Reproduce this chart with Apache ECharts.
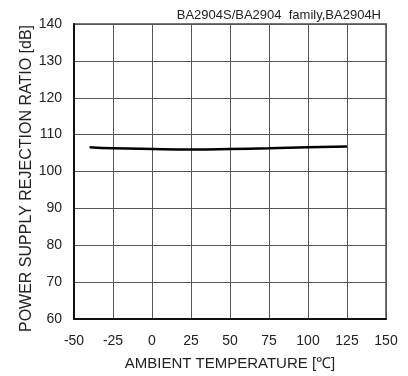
<!DOCTYPE html>
<html>
<head>
<meta charset="utf-8">
<script src="https://cdn.jsdelivr.net/npm/echarts@6/dist/echarts.min.js"></script>
<style>html,body{margin:0;padding:0;background:#fff}#c{width:408px;height:376px}</style>
</head>
<body>
<div id="c"></div>
<script>
var temps = [-40, -25, 0, 25, 50, 75, 100, 125];
var psrr = [106.6, 106.3, 106.1, 106.0, 106.1, 106.3, 106.6, 106.8];
var xTicks = [-50, -25, 0, 25, 50, 75, 100, 125, 150];
var yTicks = [60, 70, 80, 90, 100, 110, 120, 130, 140];
var titleText = 'BA2904S/BA2904  family,BA2904H';
var xName = 'AMBIENT TEMPERATURE [\u2103]';
var yName = 'POWER SUPPLY REJECTION RATIO [dB]';

var font = 'Liberation Sans, Arial, sans-serif';
var chart = echarts.init(document.getElementById('c'), null, {renderer: 'canvas'});
chart.setOption({
  animation: false,
  title: {
    text: titleText, right: 22, top: 4,
    textStyle: {fontFamily: font, fontSize: 13, fontWeight: 'normal', color: '#222'}
  },
  graphic: [{
    type: 'text', left: 19, top: 25,
    rotation: Math.PI / 2,
    style: {text: yName, font: '16px ' + font, fill: '#222'}
  }],
  grid: {left: 74, right: 22, top: 24, bottom: 57, show: true, borderColor: '#777', borderWidth: 2, backgroundColor: 'transparent'},
  xAxis: {
    type: 'value', min: xTicks[0], max: xTicks[xTicks.length - 1], interval: 25,
    name: xName, nameLocation: 'middle', nameGap: 37,
    nameTextStyle: {fontFamily: font, fontSize: 15, color: '#222'},
    axisLine: {show: true, onZero: false, lineStyle: {color: '#111', width: 2}},
    axisTick: {show: false},
    axisLabel: {fontFamily: font, fontSize: 14, color: '#222', margin: 15},
    splitLine: {show: true, lineStyle: {color: '#555', width: 1}}
  },
  yAxis: {
    type: 'value', min: yTicks[0], max: yTicks[yTicks.length - 1], interval: 10,
    axisLine: {show: true, onZero: false, lineStyle: {color: '#111', width: 2}},
    axisTick: {show: false},
    axisLabel: {fontFamily: font, fontSize: 14, color: '#222', margin: 12},
    splitLine: {show: true, lineStyle: {color: '#555', width: 1}}
  },
  series: [{
    type: 'line', smooth: true, symbol: 'none',
    data: temps.map(function (t, i) { return [t, psrr[i]]; }),
    lineStyle: {color: '#000', width: 2.5}
  }]
});
</script>
</body>
</html>
